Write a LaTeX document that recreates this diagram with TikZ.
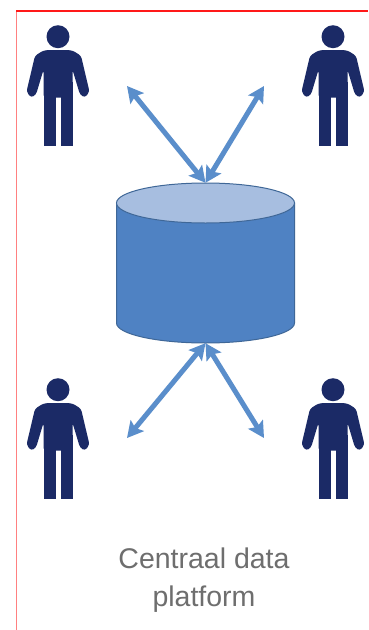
\documentclass[tikz,border=0pt]{standalone}
\usepackage{fontspec}
\setmainfont{Liberation Sans}
\usepackage{xcolor}
\usetikzlibrary{arrows.meta}
\definecolor{manblue}{HTML}{1B2A66}
\definecolor{linkblue}{HTML}{5A8ECB}
\definecolor{dbblue}{HTML}{4F82C3}
\definecolor{dbtop}{HTML}{A7BEE0}
\definecolor{dbline}{HTML}{3F6797}
\definecolor{labelgray}{HTML}{6E6E6E}
\tikzset{
  man/.pic={
    \fill[manblue] (0,0) circle (11.5);
    \fill[manblue,rounded corners=3pt] (-14,13.5) -- (14,13.5) -- (23,19) -- (31.5,55) -- (27,61) -- (22,58) -- (14.5,33)
      -- (14.5,61) -- (-14.5,61) -- (-14.5,33) -- (-22,58) -- (-27,61) -- (-31.5,55) -- (-23,19) -- cycle;
    \fill[manblue] (-14.5,45) rectangle (-2.5,109.5);
    \fill[manblue] (2.5,45) rectangle (14.5,109.5);
  }
}
\begin{document}
\begin{tikzpicture}[x=1pt,y=-1pt,>={Stealth[length=16pt,width=17pt,inset=3pt]},
  link/.style={<->,linkblue,line width=5pt},
  drum/.style={minimum width=178pt,minimum height=160pt,inner sep=0pt},
  drumline/.style={draw=dbline,line width=1pt},
  txt/.style={align=center,text=labelgray,font=\fontsize{28.5}{38}\selectfont}]
  \useasboundingbox (0,0) rectangle (368,630);
  \fill[white] (0,0) rectangle (368,630);
  \draw[red!50,line width=1pt] (16,630) -- (16,11);
  \draw[red!90,line width=1.3pt] (16,11) -- (368,11);
  \pic at (58,36.7) {man};  \pic at (333,36.7) {man};
  \pic at (58,389.7) {man};  \pic at (333,389.7) {man};
  \node[drum] (db) at (205.5,263) {};
  \path[drumline,fill=dbblue] (116.5,203) -- (116.5,323) arc[start angle=180,end angle=0,x radius=89,y radius=20] -- (294.5,203) -- cycle;
  \path[drumline,fill=dbtop] (205.5,203) ellipse[x radius=89,y radius=20];
  \coordinate (tl) at (127,86);  \coordinate (tr) at (264,86);
  \coordinate (bl) at (127,438);  \coordinate (br) at (264,438);
  \draw[link] (tl) -- (db.north);  \draw[link] (tr) -- (db.north);
  \draw[link] (bl) -- (db.south);  \draw[link] (br) -- (db.south);
  \node[txt] (caption) at (204,580) {Centraal data\\platform};
\end{tikzpicture}
\end{document}
